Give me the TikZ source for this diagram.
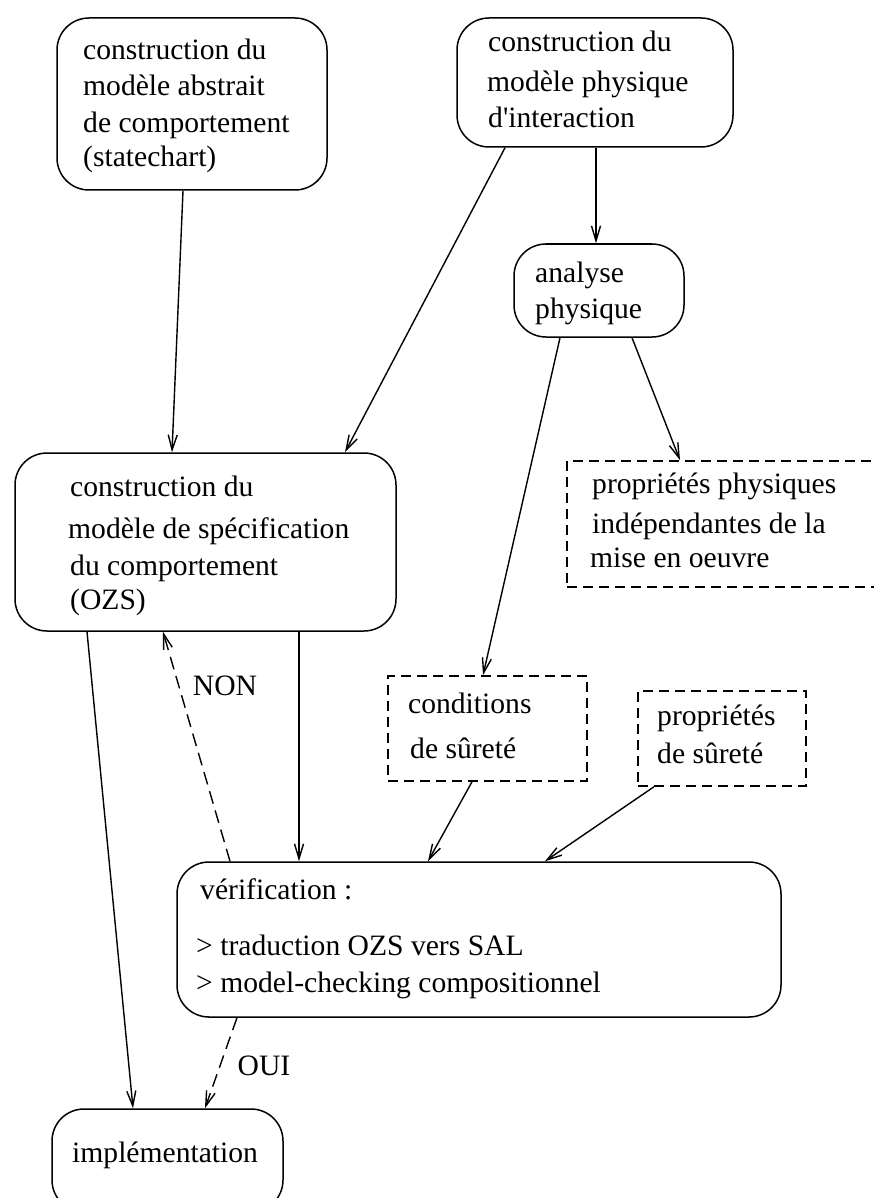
\documentclass[tikz,border=0pt]{standalone}
\usepackage{fontspec}
\setmainfont{Liberation Serif}
\usetikzlibrary{arrows.meta,calc}
\begin{document}
\begin{tikzpicture}[x=1pt,y=-1pt,
  every node/.style={font=\fontsize{29.6}{35}\selectfont},
  boxbase/.style={draw,line width=1.5pt,inner sep=0pt,rectangle},
  roundbox/.style={boxbase,rounded corners=32pt},
  dashbox/.style={boxbase,dash pattern=on 10pt off 6pt},
  txt/.style={anchor=base west,inner sep=0pt},
  conn/.style={line width=1.4pt,-{Straight Barb[length=15pt,width=9pt,line width=1.4pt]}},
  dconn/.style={conn,dash pattern=on 13pt off 7pt},
  lbl/.style={inner sep=0pt}]
\clip (0,0) rectangle (874,1198);
% boxes
\node[roundbox,minimum width=270pt,minimum height=172pt] (abs) at (192,104) {};
\node[roundbox,minimum width=276pt,minimum height=129pt] (phy) at (595,82.5) {};
\node[roundbox,minimum width=170pt,minimum height=93pt] (ana) at (599,290.5) {};
\node[roundbox,minimum width=381pt,minimum height=178pt] (spec) at (205.5,542) {};
\node[dashbox,minimum width=313pt,minimum height=126pt] (ppi) at (723.5,524) {};
\node[dashbox,minimum width=199pt,minimum height=105pt] (cond) at (487.5,728.5) {};
\node[dashbox,minimum width=168pt,minimum height=95pt] (psur) at (722,738.5) {};
\node[roundbox,minimum width=604pt,minimum height=155pt] (verif) at (479,939.5) {};
\node[roundbox,minimum width=231pt,minimum height=103pt] (impl) at (167.5,1160.5) {};
% texts
\node[txt] (abs1) at (83,60) {construction du};
\node[txt] (abs2) at (83,96) {modèle abstrait};
\node[txt] (abs3) at (83,133) {de comportement};
\node[txt] (abs4) at (83,167) {(statechart)};
\node[txt] (phy1) at (488,52) {construction du};
\node[txt] (phy2) at (487,92) {modèle physique};
\node[txt] (phy3) at (488,128) {d\textquotesingle interaction};
\node[txt] (ana1) at (535,282) {analyse};
\node[txt] (ana2) at (535,318) {physique};
\node[txt] (spec1) at (70,496) {construction du};
\node[txt] (spec2) at (68,538) {modèle de spécification};
\node[txt] (spec3) at (70,575) {du comportement};
\node[txt] (spec4) at (70,609) {(OZS)};
\node[txt] (ppi1) at (592,493) {propriétés physiques};
\node[txt] (ppi2) at (592,533) {indépendantes de la};
\node[txt] (ppi3) at (590,567) {mise en oeuvre};
\node[txt] (cond1) at (408,713) {conditions};
\node[txt] (cond2) at (410,758) {de sûreté};
\node[txt] (psur1) at (657,725) {propriétés};
\node[txt] (psur2) at (657,763) {de sûreté};
\node[txt] (ver1) at (200,899) {vérification :};
\node[txt] (ver2) at (196,955) {> traduction OZS vers SAL};
\node[txt] (ver3) at (196,992) {> model-checking compositionnel};
\node[txt] (impl1) at (72,1162) {implémentation};
% connectors
\draw[conn] ([xshift=-9pt]abs.south) -- ([xshift=-33.5pt]spec.north);
\draw[conn] ([xshift=-90pt]phy.south) -- ([xshift=139.5pt]spec.north);
\draw[conn] ([xshift=1pt]phy.south) -- ([xshift=-3pt]ana.north);
\draw[conn] ([xshift=33pt]ana.south) -- ([xshift=-43.5pt]ppi.north);
\draw[conn] ([xshift=-39pt]ana.south) -- ([xshift=-4.5pt]cond.north);
\draw[conn] ([xshift=-15.5pt]cond.south) -- ([xshift=-51pt]verif.north);
\draw[conn] ([xshift=-68pt]psur.south) -- ([xshift=66pt]verif.north);
\draw[conn] ([xshift=93.5pt]spec.south) -- ([xshift=-180pt]verif.north);
\draw[dconn] ([xshift=-249pt]verif.north) -- ([xshift=-42.5pt]spec.south);
\draw[conn] ([xshift=-118.5pt]spec.south) -- ([xshift=-34.5pt]impl.north);
\draw[dconn] ([xshift=-242pt]verif.south) -- ([xshift=37.5pt]impl.north);
% labels
\node[lbl] (non) at (225,686) {NON};
\node[lbl] (oui) at (264,1066) {OUI};
\end{tikzpicture}
\end{document}
